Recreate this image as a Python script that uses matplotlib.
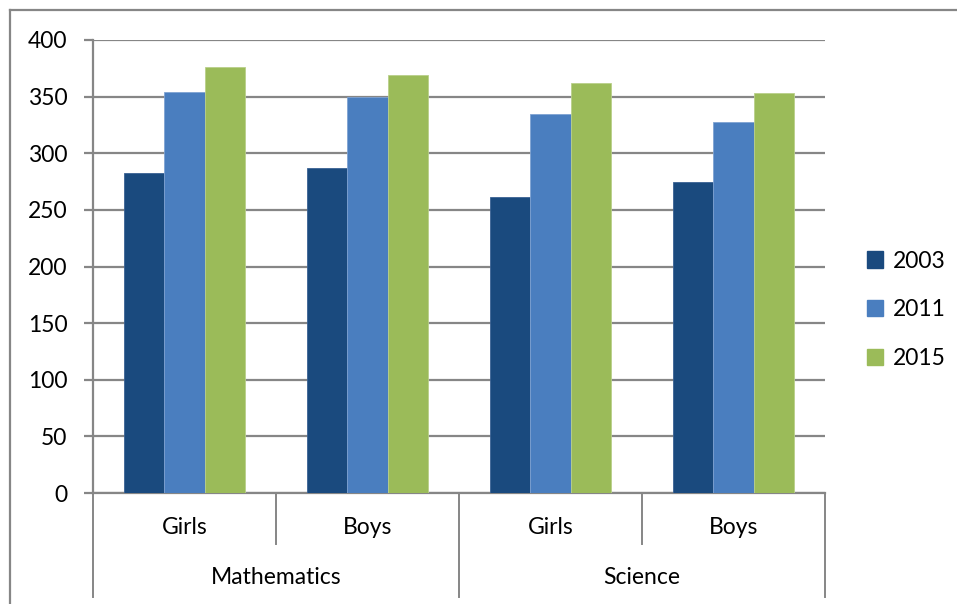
import matplotlib
matplotlib.use("Agg")
import matplotlib.pyplot as plt
from matplotlib.lines import Line2D
from matplotlib.patches import Patch
import numpy as np

plt.rcParams['font.family'] = ['Lato', 'DejaVu Sans']

subjects = ["Mathematics", "Science"]
genders = ["Girls", "Boys", "Girls", "Boys"]
years = ["2003", "2011", "2015"]
v2003 = [283, 287, 261, 275]
v2011 = [354, 350, 335, 328]
v2015 = [376, 369, 362, 353]
yticks = [0, 50, 100, 150, 200, 250, 300, 350, 400]

colors = ["#1A4A7E", "#4A7EBF", "#9BBB59"]
edges = ["#3A6294", "#7FA3D3", "#B9D08A"]
grid_c = "#868686"

W, H = 957, 604
fig = plt.figure(figsize=(W / 100, H / 100), dpi=100)
L, R, T, B = 93, 825, 40, 493
ax = fig.add_axes([L / W, 1 - B / H, (R - L) / W, (B - T) / H])

x = np.arange(len(genders))
bw = 0.219
for i, (vals, c, ec) in enumerate(zip([v2003, v2011, v2015], colors, edges)):
    ax.bar(x + (i - 1) * bw, vals, width=bw, color=c, edgecolor=ec, linewidth=0.6, zorder=3)

ax.set_xlim(-0.5, len(genders) - 0.5)
ax.set_ylim(0, 400)
ax.set_yticks(yticks)
ax.set_yticklabels([str(t) for t in yticks], fontsize=16.5)
ax.yaxis.grid(True, color=grid_c, linewidth=1.6, zorder=0)
ax.set_axisbelow(True)
for s in ["top", "right"]:
    ax.spines[s].set_visible(False)
for s in ["left", "bottom"]:
    ax.spines[s].set_color(grid_c)
    ax.spines[s].set_linewidth(1.6)
ax.tick_params(axis="y", length=6.5, width=1.6, color=grid_c, pad=12, labelcolor="black")
ax.set_xticks([])

# multi-level category axis
trans = ax.get_xaxis_transform()
px = 1.0 / (B - T)
inner_bottom = -(544 - B) * px
outer_bottom = -(597 - B) * px
for b in [-0.5, 0.5, 1.5, 2.5, 3.5]:
    yb = outer_bottom if b in (-0.5, 1.5, 3.5) else inner_bottom
    ax.add_line(Line2D([b, b], [0, yb], transform=trans, color=grid_c, lw=1.4, clip_on=False))
for xi, g in zip(x, genders):
    ax.text(xi, -(528 - B) * px, g, transform=trans, ha="center", va="center", fontsize=16.5)
for k, s in enumerate(subjects):
    ax.text(2 * k + 0.5, -(578 - B) * px, s, transform=trans, ha="center", va="center", fontsize=16.5)

# chart border (top and left)
fig.add_artist(Line2D([10 / W, 1], [1 - 10 / H, 1 - 10 / H], transform=fig.transFigure, color=grid_c, lw=1.6))
fig.add_artist(Line2D([10 / W, 10 / W], [0, 1 - 10 / H], transform=fig.transFigure, color=grid_c, lw=1.6))

handles = [Patch(facecolor=c, edgecolor=c) for c in colors]
fig.legend(handles, years, loc="center left", bbox_to_anchor=(858 / W, 1 - 310 / H),
           frameon=False, fontsize=16.5, handlelength=0.7, handleheight=0.7,
           handletextpad=0.4, labelspacing=1.22, borderaxespad=0)

fig.savefig("out.png", dpi=100, facecolor="white")
